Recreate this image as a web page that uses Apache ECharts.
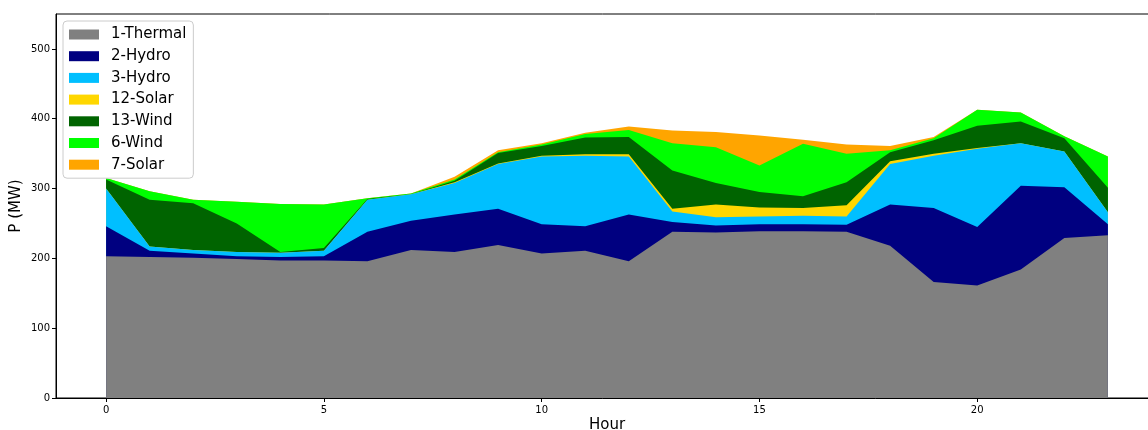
<!DOCTYPE html>
<html>
<head>
<meta charset="utf-8">
<script src="https://cdn.jsdelivr.net/npm/echarts@6/dist/echarts.min.js"></script>
<style>
  html, body { margin: 0; padding: 0; background: #fff; }
  #chart { width: 1148px; height: 430px; }
</style>
</head>
<body>
<div id="chart"></div>
<script>
// hours on x axis
const hours = [0,1,2,3,4,5,6,7,8,9,10,11,12,13,14,15,16,17,18,19,20,21,22,23];

// generation per unit (MW), stacked bottom to top
const thermal1 = [203,202,201,199,197,197,196,212,209,219,207,211,196,238,237,239,239,238,218,166,161,184,229,233];
const hydro2   = [43,9,6,4,5,6,42,42,54,52,42,35,67,14,10,10,10,10,59,106,84,120,73,16];
const hydro3   = [54,6,5,6,6,8,46,38,45,64,97,101,83,15,12,11,12,12,58,75,112,61,51,17];
const solar12  = [0,0,0,0,0,0,0,0,1,1,1,2,3,4,18,13,11,16,4,3,1,0,0,0];
const wind13   = [13,67,67,41,1,4,1,0,2,15,14,24,25,55,31,22,17,33,13,19,32,31,19,35];
const wind6    = [2,12,5,31,69,62,1,1,2,1,2,5,10,39,51,38,75,41,3,3,23,13,3,45];
const solar7   = [0,0,0,0,0,0,0,0,4,3,2,2,5,18,22,43,6,13,6,2,0,0,0,0];

// tick labels
const xTicks = [0,5,10,15,20];
const yTicks = [0,100,200,300,400,500];

const seriesDefs = [
    { name: '1-Thermal', data: thermal1, color: '#808080' },
    { name: '2-Hydro',   data: hydro2,   color: '#000080' },
    { name: '3-Hydro',   data: hydro3,   color: '#00bfff' },
    { name: '12-Solar',  data: solar12,  color: '#ffd700' },
    { name: '13-Wind',   data: wind13,   color: '#006400' },
    { name: '6-Wind',    data: wind6,    color: '#00ff00' },
    { name: '7-Solar',   data: solar7,   color: '#ffa500' }
];

// running totals, so each area is filled from 0 up to its stacked top;
// drawn top layer first so the lower layers paint over it
let running = hours.map(() => 0);
const stacked = seriesDefs.map(s => {
    running = running.map((v, i) => v + s.data[i]);
    return { name: s.name, color: s.color, top: running.slice() };
});

const myChart = echarts.init(document.getElementById('chart'));

const font = 'DejaVu Sans';

let option = {
    animation: false,
    textStyle: { fontFamily: font },
    grid: {
        left: 56, top: 14, width: 1102, height: 384,
        outerBoundsMode: 'none', containLabel: false,
        show: true, borderColor: '#000', borderWidth: 1, backgroundColor: 'transparent'
    },
    legend: {
        orient: 'vertical', left: 63, top: 21,
        icon: 'rect', itemWidth: 30, itemHeight: 10, itemGap: 6.7,
        padding: [6, 7, 6, 6],
        backgroundColor: '#fff', borderColor: '#ccc', borderWidth: 1, borderRadius: 4,
        textStyle: { fontFamily: font, fontSize: 15, lineHeight: 15, color: '#000', padding: [0, 0, 0, 7] },
        data: seriesDefs.map(s => s.name)
    },
    xAxis: {
        type: 'value', min: -1.15, max: 24.15,
        name: 'Hour', nameLocation: 'middle', nameGap: 20, nameMoveOverlap: false,
        nameTextStyle: { fontFamily: font, fontSize: 15, color: '#000' },
        axisLine: { show: true, onZero: false, lineStyle: { color: '#000', width: 1 } },
        axisTick: { show: true, length: 4, customValues: xTicks, lineStyle: { color: '#000' } },
        axisLabel: { customValues: xTicks, fontFamily: font, fontSize: 10, color: '#000', margin: 7 },
        splitLine: { show: false }
    },
    yAxis: {
        type: 'value', min: 0, max: 550,
        name: 'P (MW)', nameLocation: 'middle', nameGap: 32, nameRotate: 90, nameMoveOverlap: false,
        nameTextStyle: { fontFamily: font, fontSize: 15, color: '#000' },
        axisLine: { show: true, onZero: false, lineStyle: { color: '#000', width: 1 } },
        axisTick: { show: true, length: 4, customValues: yTicks, lineStyle: { color: '#000' } },
        axisLabel: { customValues: yTicks, fontFamily: font, fontSize: 10, color: '#000', margin: 6 },
        splitLine: { show: false }
    },
    series: stacked.slice().reverse().map(s => ({
        name: s.name,
        type: 'line',
        color: s.color,
        itemStyle: { color: s.color },
        showSymbol: false,
        symbol: 'none',
        lineStyle: { width: 0 },
        areaStyle: { color: s.color, opacity: 1, origin: 'start' },
        data: hours.map((h, i) => [h, s.top[i]])
    }))
};

option && myChart.setOption(option);
</script>
</body>
</html>
